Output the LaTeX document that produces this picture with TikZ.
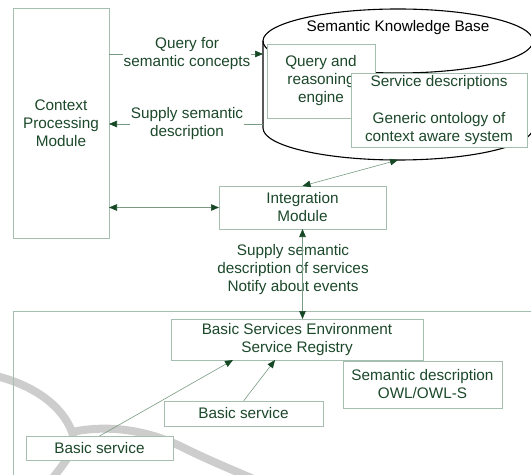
\documentclass[tikz,border=0pt]{standalone}
\usepackage{fontspec}
\setmainfont{Liberation Sans}
\usetikzlibrary{arrows.meta,calc}
\definecolor{txtgreen}{RGB}{28,72,42}
\definecolor{boxline}{RGB}{165,190,175}
\definecolor{conline}{RGB}{120,155,130}
\definecolor{headgreen}{RGB}{22,72,38}
\definecolor{markgray}{RGB}{205,205,205}
\begin{document}
\begin{tikzpicture}[x=1bp,y=-1bp,
  every node/.style={font=\fontsize{15.3bp}{18bp}\selectfont, text=txtgreen},
  box/.style={draw=boxline, line width=0.8bp, fill=white, align=center, inner sep=0pt, outer sep=0pt},
  link/.style={draw=conline, line width=0.6bp},
  headend/.style={-{Triangle[length=8bp,width=6.5bp,color=headgreen,fill=headgreen]}},
  headboth/.style={{Triangle[length=8bp,width=6.5bp,color=headgreen,fill=headgreen]}-{Triangle[length=8bp,width=6.5bp,color=headgreen,fill=headgreen]}},
  lbl/.style={align=center, inner sep=1bp},
  watermark/.style={draw=markgray, line width=8bp, line cap=round},
  frame/.style={draw=boxline, line width=0.8bp}
]
\useasboundingbox (0,0) rectangle (531,475);
\begin{scope}
\clip (0,0) rectangle (531,475);

% faint background swoosh
\draw[watermark] (-8,375) .. controls (32,384) and (62,405) .. (72,432)
                 .. controls (78,450) and (62,465) .. (50,482);
\draw[watermark] (72,432) .. controls (110,424) and (148,431) .. (180,446)
                 .. controls (212,462) and (238,472) .. (265,484);

% knowledge base cylinder
\fill[white] (263,41) -- (263,128)
  arc[start angle=180, end angle=360, x radius=135bp, y radius=32bp]
  -- (533,41)
  arc[start angle=0, end angle=180, x radius=135bp, y radius=32bp] -- cycle;
\draw[line width=1.1bp] (263,41) -- (263,128)
  arc[start angle=180, end angle=360, x radius=135bp, y radius=32bp]
  -- (533,41);
\draw[line width=1.1bp] (398,41) ellipse [x radius=135bp, y radius=32bp];
\node[minimum width=270bp, minimum height=151bp, inner sep=0pt, outer sep=0pt] (skb) at (398,84.5) {};
\node[text=black] (skbtitle) at (398,28) {Semantic Knowledge Base};

% environment frame
\draw[frame] (13,490) -- (13,311) -- (545,311);
\end{scope}

% boxes
\node[box, minimum width=96bp, minimum height=230bp] (cpm) at (61,123) {Context\\Processing\\Module};
\node[box, minimum width=167bp, minimum height=43bp] (int) at (302.5,207.5) {Integration\\Module};
\node[box, minimum width=108bp, minimum height=74bp] (qre) at (321,81) {Query and\\reasoning\\engine};
\node[box, minimum width=176bp, minimum height=74bp] (sd) at (439,110) {Service descriptions\\[19bp]Generic ontology of\\context aware system};
\node[box, minimum width=252bp, minimum height=41bp] (bse) at (297,339.5) {Basic Services Environment\\Service Registry};
\node[box, minimum width=159bp, minimum height=47bp] (sem) at (422.5,384.5) {Semantic description\\OWL/OWL-S};
\node[box, minimum width=159bp, minimum height=25bp] (bs1) at (243.5,413.5) {Basic service};
\node[box, minimum width=147bp, minimum height=24bp] (bs2) at (99.5,448) {Basic service};

% connectors
\coordinate (qy) at (0,54);
\coordinate (sy) at (0,124);
\draw[link, headend] (cpm.east |- qy) -- (skb.west |- qy);
\draw[link, headend] (skb.west |- sy) -- (cpm.east |- sy);
\node[lbl, fill=white] (qlab) at (187,54) {Query for\\semantic concepts};
\node[lbl, fill=white] (slab) at (187,124) {Supply semantic\\description};
\draw[link, headboth] (cpm.east |- int.west) -- (int.west);
\draw[link, headboth] (int.north) -- (skb.south);
\node[lbl] (evlab) at (293,269.5) {Supply semantic\\description of services\\Notify about events};
\draw[link, headboth] (int.south) -- (int.south |- bse.north);
\draw[link, headend] (bs2.north) -- ($(bse.south west)!0.246!(bse.south east)$);
\draw[link, headend] (bs1.north) -- ($(bse.south west)!0.413!(bse.south east)$);
\end{tikzpicture}
\end{document}
